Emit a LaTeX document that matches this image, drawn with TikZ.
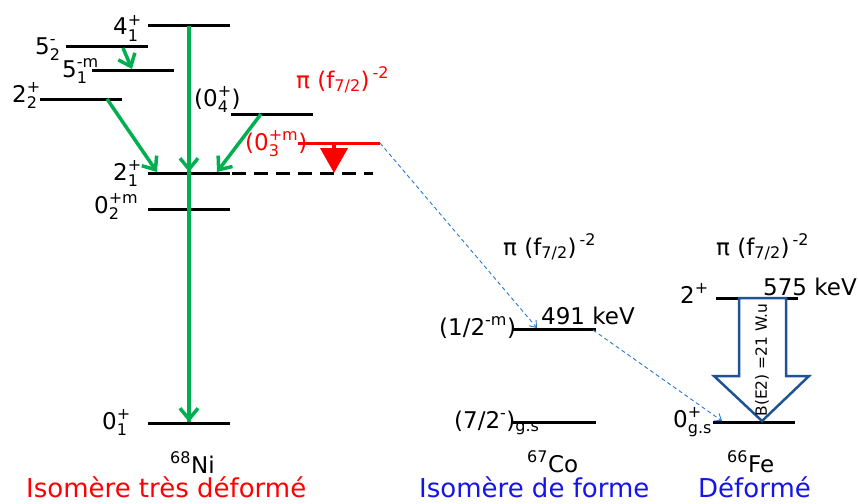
\documentclass[tikz,border=0pt]{standalone}
\usepackage{fontspec}
\setmainfont{DejaVu Sans}
\usetikzlibrary{arrows.meta}
\definecolor{grn}{RGB}{0,176,80}
\definecolor{fblue}{RGB}{31,84,148}
\definecolor{dblue}{RGB}{40,120,210}
\definecolor{tblue}{RGB}{20,20,235}
\newcommand\Lsz{\fontsize{23}{23}\selectfont}
\newcommand\Ssz{\fontsize{16}{16}\selectfont}
\newcommand\LvSS[2]{$^{\hbox{\Ssz #1}}_{\hbox{\Ssz #2}}$}
\newcommand\LvSup[1]{$^{\hbox{\Ssz #1}}$}
\newcommand\LvSub[1]{$_{\hbox{\Ssz #1}}$}
\begin{document}
\begin{tikzpicture}[x=1pt,y=-1pt,
 lvl/.style={line width=3pt, line cap=butt},
 lab/.style={inner sep=0pt, anchor=base west, font=\Lsz},
 big/.style={inner sep=0pt, anchor=base west, text depth=0pt, font=\fontsize{26}{26}\selectfont},
 gam/.style={grn, line width=3.5pt, -{Straight Barb[length=11pt,width=18pt]}},
 conn/.style={dblue, line width=0.9pt, dash pattern=on 4pt off 3pt, -{Straight Barb[length=6pt,width=9pt]}},
 pil/.style={red, line width=4pt, -{Triangle[length=25pt,width=27pt]}}]
\useasboundingbox (0,0) rectangle (858,503);

% ---- 68Ni levels
\draw[lvl] (148,26) -- (230,26);
\draw[lvl] (66,47) -- (148,47);
\draw[lvl] (92,70) -- (174,70);
\draw[lvl] (40,99) -- (122,99);
\draw[lvl] (231,114) -- (313,114);
\draw[lvl] (148,173) -- (230,173);
\draw[lvl, dash pattern=on 14pt off 8pt] (232,173) -- (373,173);
\draw[lvl] (148,209) -- (230,209);
\draw[lvl] (148,423) -- (230,423);
\draw[lvl, red] (298,143) -- (380,143);

% coordinates for transitions
\coordinate (n4) at (189,26);
\coordinate (n21) at (189,172);
\coordinate (n0) at (189,422);
\coordinate (n5a) at (123,48);
\coordinate (n5b) at (132,69);
\coordinate (n22) at (107,99);
\coordinate (n22e) at (157,172);
\coordinate (n04) at (261,114);
\coordinate (n04e) at (217,172);
\coordinate (n03) at (334,144);
\coordinate (n03e) at (334,173);
\coordinate (n03r) at (380,143);
\coordinate (co12) at (537,328);
\coordinate (co12r) at (593,330);
\coordinate (fe0) at (722,421);

\draw[grn, line width=3.5pt] (n4) -- (n0);
\draw[gam] (n4) -- (n21);
\draw[gam] (n21) -- (n0);
\draw[gam] (n5a) -- (n5b);
\draw[gam] (n22) -- (n22e);
\draw[gam] (n04) -- (n04e);
\draw[pil] (n03) -- (n03e);

% labels 68Ni
\node[lab] (l41) at (113,35) {4\LvSS{+}{1}};
\node[lab] (l52) at (35,54) {5\LvSS{-}{2}};
\node[lab] (l51) at (62,77) {5\LvSS{-m}{1}};
\node[lab] (l22) at (12,102) {2\LvSS{+}{2}};
\node[lab] (l04) at (194,106) {(0\LvSS{+}{4})};
\node[lab, red] (l03) at (245,150) {(0\LvSS{+m}{3})};
\node[lab, red] (lpi1) at (296,88) {π (f\LvSub{7/2})\LvSup{\kern3pt-2}};
\node[lab] (l21) at (113,180) {2\LvSS{+}{1}};
\node[lab] (l02) at (94,213) {0\LvSS{+m}{2}};
\node[lab] (l01) at (102,429) {0\LvSS{+}{1}};
\node[lab] (ni) at (170,473) {\LvSup{68}Ni};
\node[big, red] (t1) at (26,497) {Isomère très déformé};

% ---- 67Co
\draw[lvl] (513,329) -- (596,329);
\draw[lvl] (513,422) -- (596,422);
\node[lab] (lpi2) at (503,255) {π (f\LvSub{7/2})\LvSup{\kern3pt-2}};
\node[lab] (l12) at (439,335) {(1/2\LvSup{-m})};
\node[lab] (e491) at (541,324) {491 keV};
\node[lab] (l72) at (454,428) {(7/2\LvSup{-})\LvSub{g.s}};
\node[lab] (co) at (527,472) {\LvSup{67}Co};
\node[big, tblue] (t2) at (419,497) {Isomère de forme};

% ---- 66Fe
\draw[lvl] (716,298) -- (798,298);
\draw[lvl] (713,422) -- (795,422);
\draw[fblue, line width=2.5pt, fill=white, line join=miter]
  (739,298) -- (786,298) -- (786,376) -- (809,376) -- (762,421) -- (714,376) -- (739,376) -- cycle;
\node[inner sep=0pt, rotate=90, font=\fontsize{15.5}{15.5}\selectfont] (be2) at (762,360) {B(E2) =21 W.u};
\node[lab] (lpi3) at (716,255) {π (f\LvSub{7/2})\LvSup{\kern3pt-2}};
\node[lab] (l2p) at (680,303) {2\LvSup{+}};
\node[lab] (e575) at (763,295) {575 keV};
\node[lab] (l0gs) at (673,427) {0\LvSS{+}{g.s}};
\node[lab] (fe) at (727,472) {\LvSup{66}Fe};
\node[big, tblue] (t3) at (698,497) {Déformé};

% ---- connectors
\draw[conn] (n03r) -- (co12);
\draw[conn] (co12r) -- (fe0);
\end{tikzpicture}
\end{document}
